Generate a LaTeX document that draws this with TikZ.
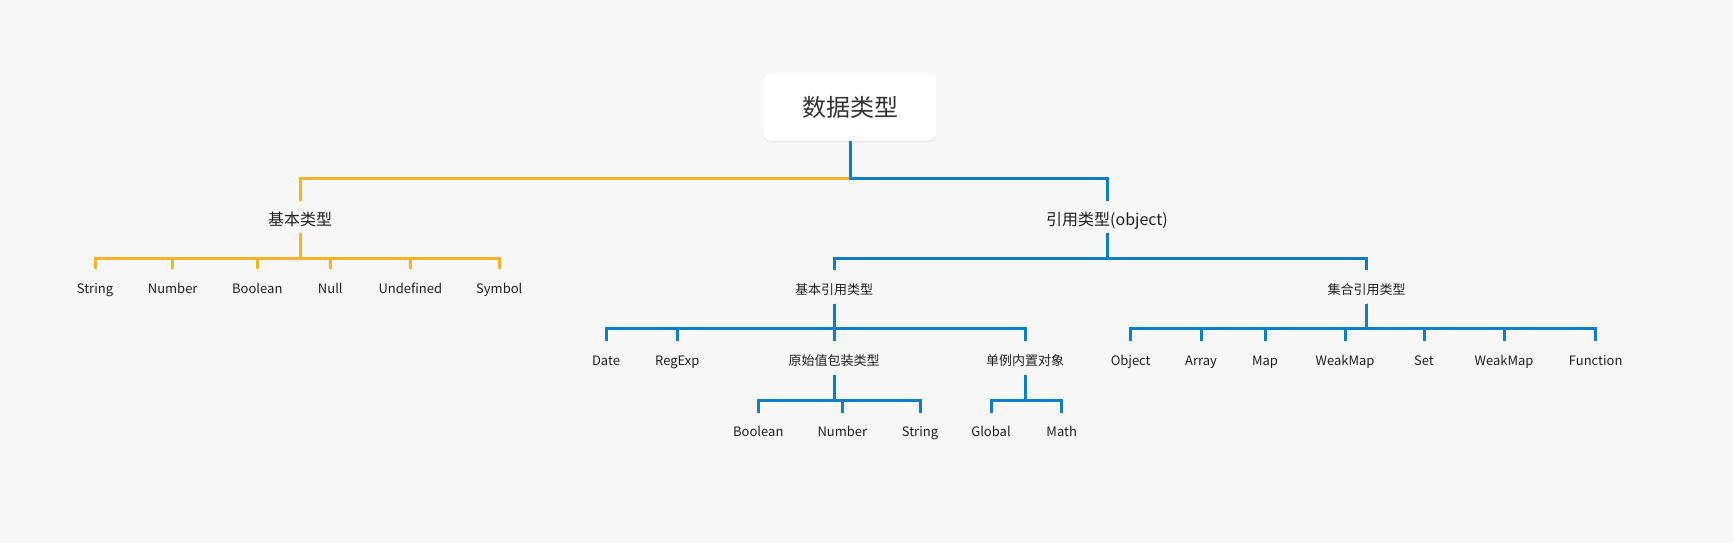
\documentclass[tikz,border=0pt]{standalone}
\usepackage{fontspec}
\setmainfont{Noto Sans CJK SC}
\usetikzlibrary{shadows}
\definecolor{bg}{HTML}{F7F7F7}
\definecolor{orangeln}{HTML}{FBB12B}
\definecolor{blueln}{HTML}{0F7DC4}
\definecolor{txt}{HTML}{1F1F1F}
\definecolor{titletxt}{HTML}{333333}
\begin{document}
\begin{tikzpicture}[x=1pt,y=-1pt,
  rootbox/.style={rounded corners=7pt, fill=white, minimum width=172pt, minimum height=66.7pt,
    inner sep=0pt, text=titletxt, font=\fontsize{24}{28}\selectfont,
    drop shadow={shadow xshift=0pt, shadow yshift=-1.5pt, fill=black, opacity=0.06}},
  lbl/.style={inner sep=0pt, anchor=base, text=txt, font=\fontsize{13}{15}\selectfont,
    text height=24pt, text depth=9.5pt},
  big/.style={lbl, font=\fontsize{16}{18}\selectfont, text height=24.3pt, text depth=8pt},
  ol/.style={draw=orangeln, line width=3pt},
  bl/.style={draw=blueln, line width=3pt}]
\useasboundingbox (0,0) rectangle (1733,543);
\fill[bg] (0,0) rectangle (1733,543);

\node[rootbox] (root) at (850,107.4) {数据类型};

\node[big] (basic) at (300,225) {基本类型};
\node[big] (ref) at (1107,225) {引用类型(object)};

% basic type leaves
\node[lbl] (s1) at (95,293.5) {String};
\node[lbl] (s2) at (172.7,293.5) {Number};
\node[lbl] (s3) at (257.3,293.5) {Boolean};
\node[lbl] (s4) at (330.3,293.5) {Null};
\node[lbl] (s5) at (410.3,293.5) {Undefined};
\node[lbl] (s6) at (499.3,293.5) {Symbol};

% reference level 2
\node[lbl] (bref) at (834,294) {基本引用类型};
\node[lbl] (coll) at (1366.7,294) {集合引用类型};

% basic reference children
\node[lbl] (date) at (606,365.5) {Date};
\node[lbl] (regexp) at (677.3,365.5) {RegExp};
\node[lbl] (wrap) at (834,365.5) {原始值包装类型};
\node[lbl] (single) at (1025,365.5) {单例内置对象};

% collection children
\node[lbl] (c1) at (1130.7,365.5) {Object};
\node[lbl] (c2) at (1201,365.5) {Array};
\node[lbl] (c3) at (1265,365.5) {Map};
\node[lbl] (c4) at (1345,365.5) {WeakMap};
\node[lbl] (c5) at (1424,365.5) {Set};
\node[lbl] (c6) at (1504,365.5) {WeakMap};
\node[lbl] (c7) at (1595.7,365.5) {Function};

% wrapper children
\node[lbl] (w1) at (758.3,436.8) {Boolean};
\node[lbl] (w2) at (842.3,436.8) {Number};
\node[lbl] (w3) at (920,436.8) {String};

% singleton children
\node[lbl] (g1) at (991,436.8) {Global};
\node[lbl] (g2) at (1061.7,436.8) {Math};

% connectors
\draw[ol] (root.south) -- ++(0,38) -| (basic.north);
\draw[bl] (root.south) -- ++(0,38) -| (ref.north);

\foreach \c in {s1,s2,s3,s4,s5,s6}
  \draw[ol] (basic.south) -- ++(0,25) -| (\c.north);

\foreach \c in {bref,coll}
  \draw[bl] (ref.south) -- ++(0,25.3) -| (\c.north);

\foreach \c in {date,regexp,wrap,single}
  \draw[bl] (bref.south) -- ++(0,25.2) -| (\c.north);

\foreach \c in {c1,c2,c3,c4,c5,c6,c7}
  \draw[bl] (coll.south) -- ++(0,25.2) -| (\c.north);

\foreach \c in {w1,w2,w3}
  \draw[bl] (wrap.south) -- ++(0,25) -| (\c.north);

\foreach \c in {g1,g2}
  \draw[bl] (single.south) -- ++(0,25) -| (\c.north);
\end{tikzpicture}
\end{document}
